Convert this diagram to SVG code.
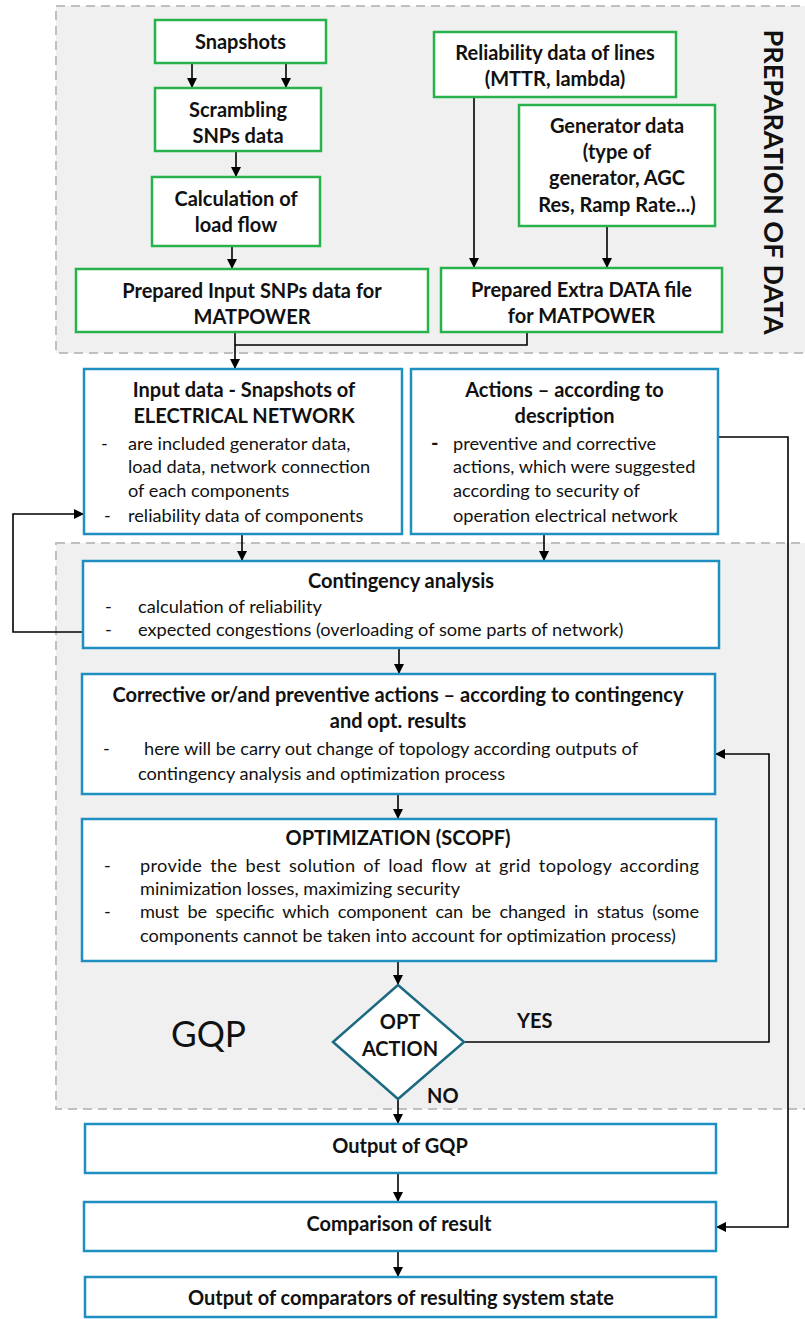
<svg xmlns="http://www.w3.org/2000/svg" width="805" height="1319" viewBox="0 0 805 1319">
  <defs>
    <marker id="arrow" markerUnits="userSpaceOnUse" markerWidth="11" markerHeight="10" refX="10" refY="5" orient="auto">
      <path d="M0,0 L10,5 L0,10 z" fill="#000"/>
    </marker>
    <style>
      .zone { fill:#f0f0f0; stroke:#c0c0c0; stroke-width:2; stroke-dasharray:9 6; }
      .gbox { fill:#fff; stroke:#27b24b; stroke-width:2.5; }
      .bbox { fill:#fff; stroke:#1d8fc0; stroke-width:2.5; }
      .dia { fill:#fff; stroke:#1c6a82; stroke-width:2.5; }
      .conn { fill:none; stroke:#000; stroke-width:1.6; }
      text { font-family: Lato, "Liberation Sans", sans-serif; fill:#111; }
      .h { font-weight:bold; font-size:20px; text-anchor:middle; }
      .hl { font-weight:bold; font-size:20px; }
      .p { font-size:18.2px; }
      .big { font-size:37px; }
      .side { font-weight:bold; font-size:27px; text-anchor:middle; }
    </style>
  </defs>

  <!-- background zones -->
  <rect class="zone" x="56" y="6" width="770" height="347"/>
  <rect class="zone" x="56" y="543" width="770" height="566"/>
  <text class="side" transform="translate(764,182) rotate(90)" textLength="305" lengthAdjust="spacingAndGlyphs">PREPARATION OF DATA</text>
  <text class="big" x="171" y="1047" textLength="75" lengthAdjust="spacingAndGlyphs">GQP</text>

  <!-- connectors -->
  <g id="connectors">
    <line class="conn" x1="192" y1="63" x2="192" y2="88" marker-end="url(#arrow)"/>
    <line class="conn" x1="286" y1="63" x2="286" y2="88" marker-end="url(#arrow)"/>
    <line class="conn" x1="236" y1="151" x2="236" y2="177" marker-end="url(#arrow)"/>
    <line class="conn" x1="232" y1="246" x2="232" y2="269" marker-end="url(#arrow)"/>
    <line class="conn" x1="474" y1="97" x2="474" y2="268" marker-end="url(#arrow)"/>
    <line class="conn" x1="607" y1="226" x2="607" y2="268" marker-end="url(#arrow)"/>
    <polyline class="conn" points="527,332 527,345 235,345"/>
    <line class="conn" x1="235" y1="332" x2="235" y2="369" marker-end="url(#arrow)"/>
    <line class="conn" x1="242" y1="534" x2="242" y2="561" marker-end="url(#arrow)"/>
    <line class="conn" x1="544" y1="534" x2="544" y2="561" marker-end="url(#arrow)"/>
    <polyline class="conn" points="83,632 13,632 13,514 84,514" marker-end="url(#arrow)"/>
    <polyline class="conn" points="718,437 788,437 788,1227 716,1227" marker-end="url(#arrow)"/>
    <line class="conn" x1="399" y1="648" x2="399" y2="674" marker-end="url(#arrow)"/>
    <line class="conn" x1="398" y1="794" x2="398" y2="819" marker-end="url(#arrow)"/>
    <line class="conn" x1="398" y1="961" x2="398" y2="985" marker-end="url(#arrow)"/>
    <polyline class="conn" points="464,1042 769,1042 769,754 715,754" marker-end="url(#arrow)"/>
    <line class="conn" x1="398" y1="1099" x2="398" y2="1124" marker-end="url(#arrow)"/>
    <line class="conn" x1="398" y1="1173" x2="398" y2="1202" marker-end="url(#arrow)"/>
    <line class="conn" x1="398" y1="1251" x2="398" y2="1277" marker-end="url(#arrow)"/>
    <text class="hl" x="517" y="1028">YES</text>
    <text class="hl" x="427" y="1103">NO</text>
  </g>

  <!-- data preparation -->
  <g id="snapshots">
    <rect class="gbox" x="155" y="20" width="171" height="43"/>
    <text class="h" x="240.5" y="49">Snapshots</text>
  </g>
  <g id="scrambling">
    <rect class="gbox" x="155" y="88" width="166" height="63"/>
    <text class="h" x="238" y="117">Scrambling</text>
    <text class="h" x="238" y="143">SNPs data</text>
  </g>
  <g id="load-flow">
    <rect class="gbox" x="152" y="177" width="168" height="69"/>
    <text class="h" x="236" y="206">Calculation of</text>
    <text class="h" x="236" y="232">load flow</text>
  </g>
  <g id="prepared-input">
    <rect class="gbox" x="76" y="269" width="352" height="63"/>
    <text class="h" x="252" y="298">Prepared Input SNPs data for</text>
    <text class="h" x="252" y="324">MATPOWER</text>
  </g>
  <g id="reliability-data">
    <rect class="gbox" x="434" y="32" width="242" height="65"/>
    <text class="h" x="555" y="60">Reliability data of lines</text>
    <text class="h" x="555" y="86">(MTTR, lambda)</text>
  </g>
  <g id="generator-data">
    <rect class="gbox" x="519" y="105" width="196" height="121"/>
    <text class="h" x="617" y="133">Generator data</text>
    <text class="h" x="617" y="159">(type of</text>
    <text class="h" x="617" y="185">generator, AGC</text>
    <text class="h" x="617" y="212">Res, Ramp Rate...)</text>
  </g>
  <g id="extra-data">
    <rect class="gbox" x="441" y="268" width="281" height="64"/>
    <text class="h" x="581.5" y="297">Prepared Extra DATA file</text>
    <text class="h" x="581.5" y="323">for MATPOWER</text>
  </g>

  <!-- inputs -->
  <g id="input-data">
    <rect class="bbox" x="84" y="369" width="318" height="165"/>
    <text class="h" x="244" y="397">Input data - Snapshots of</text>
    <text class="h" x="244" y="423">ELECTRICAL NETWORK</text>
    <text class="p" x="101" y="450">-</text>
    <text class="p" x="128" y="450">are included generator data,</text>
    <text class="p" x="128" y="473">load data, network connection</text>
    <text class="p" x="128" y="497">of each components</text>
    <text class="p" x="104" y="522">-</text>
    <text class="p" x="128" y="522">reliability data of components</text>
  </g>
  <g id="actions">
    <rect class="bbox" x="411" y="369" width="307" height="165"/>
    <text class="h" x="564.5" y="397">Actions – according to</text>
    <text class="h" x="564.5" y="423">description</text>
    <text class="hl" x="431" y="450">-</text>
    <text class="p" x="453" y="450">preventive and corrective</text>
    <text class="p" x="453" y="473">actions, which were suggested</text>
    <text class="p" x="453" y="497">according to security of</text>
    <text class="p" x="453" y="522">operation electrical network</text>
  </g>

  <!-- GQP process -->
  <g id="contingency">
    <rect class="bbox" x="83" y="561" width="636" height="87"/>
    <text class="h" x="401" y="588">Contingency analysis</text>
    <text class="p" x="105" y="613">-</text>
    <text class="p" x="138" y="613">calculation of reliability</text>
    <text class="p" x="105" y="636">-</text>
    <text class="p" x="138" y="636">expected congestions (overloading of some parts of network)</text>
  </g>
  <g id="corrective">
    <rect class="bbox" x="82" y="674" width="633" height="120"/>
    <text class="h" x="398" y="702">Corrective or/and preventive actions – according to contingency</text>
    <text class="h" x="398" y="728">and opt. results</text>
    <text class="p" x="103" y="755">-</text>
    <text class="p" x="144" y="755">here will be carry out change of topology according outputs of</text>
    <text class="p" x="138" y="780">contingency analysis and optimization process</text>
  </g>
  <g id="optimization">
    <rect class="bbox" x="82" y="819" width="634" height="142"/>
    <text class="h" x="398" y="845">OPTIMIZATION (SCOPF)</text>
    <text class="p" x="104" y="872">-</text>
    <!-- justified lines: extra word spacing, final fit via textLength -->
    <text class="p" x="140" y="872" word-spacing="3" textLength="559" lengthAdjust="spacing">provide the best solution of load flow at grid topology according</text>
    <text class="p" x="140" y="895">minimization losses, maximizing security</text>
    <text class="p" x="104" y="918">-</text>
    <text class="p" x="140" y="918" word-spacing="4" textLength="559" lengthAdjust="spacing">must be specific which component can be changed in status (some</text>
    <text class="p" x="140" y="942">components cannot be taken into account for optimization process)</text>
  </g>
  <g id="opt-action">
    <polygon class="dia" points="398,985 464,1042 398,1099 333,1042"/>
    <text class="h" x="400" y="1029">OPT</text>
    <text class="h" x="400" y="1056">ACTION</text>
  </g>

  <!-- results -->
  <g id="output-gqp">
    <rect class="bbox" x="85" y="1124" width="631" height="49"/>
    <text class="h" x="400" y="1153">Output of GQP</text>
  </g>
  <g id="comparison">
    <rect class="bbox" x="84" y="1202" width="632" height="49"/>
    <text class="h" x="399" y="1231">Comparison of result</text>
  </g>
  <g id="output-comparators">
    <rect class="bbox" x="85" y="1277" width="631" height="40"/>
    <text class="h" x="401" y="1305">Output of comparators of resulting system state</text>
  </g>
</svg>
